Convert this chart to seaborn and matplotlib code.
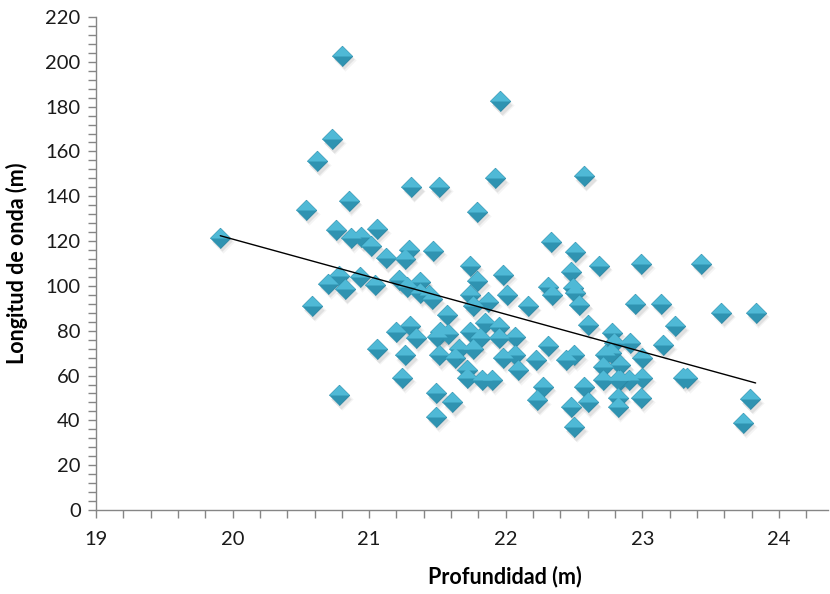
import matplotlib
matplotlib.use("Agg")
import matplotlib.pyplot as plt
import matplotlib.transforms as mtransforms
from matplotlib.ticker import MultipleLocator
import numpy as np
import pandas as pd
import seaborn as sns

# Depth (m) and wavelength (m) of each observation
profundidad = [
    19.91, 20.54, 20.58, 20.62, 20.70, 20.73, 20.76, 20.78, 20.78, 20.80,
    20.82, 20.85, 20.87, 20.93, 20.94, 21.01, 21.04, 21.06, 21.06, 21.12,
    21.20, 21.22, 21.24, 21.26, 21.26, 21.29, 21.30, 21.31, 21.34, 21.28,
    21.37, 21.37, 21.44, 21.46, 21.47, 21.51, 21.49, 21.49, 21.51, 21.50,
    21.52, 21.57, 21.58, 21.61, 21.63, 21.66, 21.72, 21.72, 21.74, 21.74,
    21.74, 21.76, 21.76, 21.79, 21.79, 21.81, 21.85, 21.83, 21.87, 21.90,
    21.92, 21.95, 21.95, 21.96, 21.98, 21.98, 22.01, 22.07, 22.07, 22.09,
    22.16, 22.22, 22.23, 22.27, 22.31, 22.31, 22.33, 22.34, 22.44, 22.48,
    22.48, 22.49, 22.50, 22.50, 22.51, 22.51, 22.54, 22.57, 22.57, 22.60,
    22.60, 22.68, 22.71, 22.71, 22.73, 22.77, 22.78, 22.79, 22.84, 22.84,
    22.82, 22.82, 22.90, 22.91, 22.95, 22.99, 23.00, 23.00, 22.99, 23.14,
    23.15, 23.24, 23.30, 23.33, 23.43, 23.58, 23.74, 23.79, 23.83, 22.82,
]
longitud_onda = [
    121.5, 134.0, 91.0, 155.7, 101.0, 165.5, 125.0, 104.4, 51.3, 202.6,
    98.6, 138.0, 121.4, 104.0, 121.8, 118.0, 100.4, 125.4, 71.8, 112.4,
    79.5, 102.6, 59.0, 69.0, 112.0, 116.0, 82.0, 144.0, 76.8, 99.6,
    101.8, 97.0, 96.0, 94.0, 115.6, 144.0, 52.0, 41.5, 69.0, 77.0,
    79.5, 87.0, 78.5, 48.0, 68.0, 72.0, 62.5, 59.0, 109.0, 79.5,
    96.0, 91.0, 72.0, 102.0, 133.0, 76.7, 83.6, 58.0, 93.0, 58.0,
    148.0, 81.8, 76.7, 182.5, 105.0, 68.0, 96.0, 77.0, 69.0, 62.5,
    91.0, 67.0, 49.0, 55.0, 99.5, 73.0, 119.6, 96.0, 67.0, 106.0,
    46.0, 99.0, 69.0, 37.0, 115.0, 97.0, 91.5, 149.0, 55.0, 82.5,
    48.0, 109.0, 64.0, 58.0, 69.0, 70.0, 79.0, 74.5, 64.5, 58.0,
    50.0, 46.0, 58.0, 74.5, 92.0, 110.0, 68.0, 59.0, 50.0, 92.0,
    73.5, 82.0, 59.0, 59.0, 110.0, 88.0, 39.0, 49.5, 88.0, 58.0,
]

x_ticks = [19, 20, 21, 22, 23, 24]
y_ticks = list(range(0, 221, 20))

df = pd.DataFrame({"Profundidad": profundidad, "Longitud": longitud_onda})

sns.set_theme(style="white")
plt.rcParams["font.family"] = ["Lato", "DejaVu Sans"]

fig = plt.figure(figsize=(8.30, 5.94), dpi=100)
ax = fig.add_axes([96 / 830, 1 - 510 / 594, 732 / 830, 493 / 594])

diamond = [(-1, 0), (0, 1), (1, 0), (0, -1)]
upper_half = [(-1, 0), (0, 1), (1, 0)]
size = 215

# soft drop shadow below each marker
for dx, dy, s, a in [(2.0, -3.0, size * 1.2, 0.08), (1.5, -2.5, size, 0.16)]:
    shift = mtransforms.offset_copy(ax.transData, fig=fig, x=dx, y=dy, units="points")
    sns.scatterplot(data=df, x="Profundidad", y="Longitud", ax=ax,
                    marker=diamond, s=s, color="#7a7a7a", alpha=a,
                    linewidth=0, transform=shift, legend=False, zorder=2)

# bevelled diamonds: darker lower facet, lighter upper facet
sns.scatterplot(data=df, x="Profundidad", y="Longitud", ax=ax,
                marker=diamond, s=size, color="#2f93b1",
                edgecolor="#2a86a3", linewidth=0.6, legend=False, zorder=3)
sns.scatterplot(data=df, x="Profundidad", y="Longitud", ax=ax,
                marker=upper_half, s=size, color="#4fb9d6",
                linewidth=0, legend=False, zorder=4)

# linear trend line
sns.regplot(data=df, x="Profundidad", y="Longitud", ax=ax, scatter=False,
            ci=None, truncate=True,
            line_kws={"color": "black", "linewidth": 1.0, "zorder": 5})

ax.set_xlim(19, 24.36)
ax.set_ylim(0, 220)
ax.set_xticks(x_ticks)
ax.set_yticks(y_ticks)
ax.xaxis.set_minor_locator(MultipleLocator(0.2))
ax.yaxis.set_minor_locator(MultipleLocator(4))

for side in ["top", "right"]:
    ax.spines[side].set_visible(False)
for side in ["left", "bottom"]:
    ax.spines[side].set_color("#868686")
    ax.spines[side].set_linewidth(1.0)

ax.tick_params(which="both", direction="out", color="#868686", width=1.0)
ax.tick_params(which="major", length=6, labelsize=14.5, labelcolor="#1a1a1a", pad=5)
ax.tick_params(which="minor", length=6)
ax.tick_params(axis="x", which="major", pad=9)
ax.tick_params(bottom=True, left=True, which="both")

ax.set_xlabel("Profundidad (m)", fontsize=15.5, fontweight="bold", color="black")
ax.set_ylabel("Longitud de onda (m)", fontsize=15.5, fontweight="bold", color="black")
ax.xaxis.set_label_coords((505 - 96) / 732, -(566 - 510) / 493)
ax.yaxis.set_label_coords(-(96 - 28) / 732, 0.5)

fig.savefig("out.png", dpi=100)
